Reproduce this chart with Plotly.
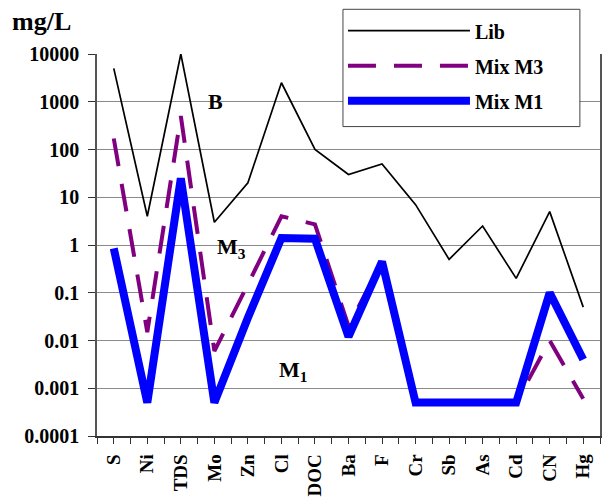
import plotly.graph_objects as go

# Parameters along the horizontal axis
categories = ["S", "Ni", "TDS", "Mo", "Zn", "Cl", "DOC", "Ba", "F",
              "Cr", "Sb", "As", "Cd", "CN", "Hg"]

# Concentrations in mg/L
lib = [5000, 4, 10000, 3, 20, 2500, 100, 30, 50, 7, 0.5, 2.5, 0.2, 5, 0.05]
mix_m3 = [170, 0.015, 500, 0.006, 0.15, 4, 2.7, 0.02, 0.45,
          0.0005, 0.0005, 0.0005, 0.0005, 0.01, 0.0006]
mix_m1 = [0.85, 0.0005, 25, 0.0005, 0.03, 1.4, 1.35, 0.012, 0.45,
          0.0005, 0.0005, 0.0005, 0.0005, 0.1, 0.004]

y_tick_vals = [1e-4, 1e-3, 1e-2, 1e-1, 1, 10, 100, 1000, 10000]
y_tick_text = ["0.0001", "0.001", "0.01", "0.1", "1", "10", "100", "1000", "10000"]

SERIF = "Liberation Serif"
xpos = list(range(len(categories)))

fig = go.Figure()
fig.add_trace(go.Scatter(
    x=xpos, y=lib, name="Lib", mode="lines", legendgroup="a",
    line=dict(color="black", width=1.7),
))
fig.add_trace(go.Scatter(
    x=xpos, y=mix_m3, name="Mix M3", mode="lines", legendgroup="b",
    line=dict(color="#800080", width=4, dash="28px,18px"),
))
fig.add_trace(go.Scatter(
    x=xpos, y=mix_m1, name="Mix M1", mode="lines", legendgroup="c",
    line=dict(color="#0000FF", width=8),
))

# Tick marks at every category centre and every category boundary
x_tick_vals = [i * 0.5 - 0.5 for i in range(2 * len(categories) + 1)]
x_tick_text = [categories[int(v)] if float(v).is_integer() else " " for v in x_tick_vals]

fig.update_xaxes(
    range=[-0.5, len(categories) - 0.5],
    tickmode="array", tickvals=x_tick_vals, ticktext=x_tick_text,
    tickangle=-90, ticks="outside", ticklen=6, tickcolor="#333",
    ticklabelstandoff=3,
    showgrid=False, zeroline=False,
    showline=True, linecolor="#333", linewidth=1.5,
    tickfont=dict(family=SERIF, size=19, color="black", weight="bold"),
)
fig.update_yaxes(
    type="log", range=[-4, 4],
    tickmode="array", tickvals=y_tick_vals, ticktext=y_tick_text,
    ticks="outside", ticklen=7, tickcolor="#333",
    ticklabelstandoff=5,
    showgrid=True, gridcolor="#8a8a8a", gridwidth=1.2,
    showline=True, linecolor="#555", linewidth=1.5, mirror=True,
    tickfont=dict(family=SERIF, size=20, color="black", weight="bold"),
)

# Curve labels
label_font = dict(family=SERIF, size=22, color="black", weight="bold")
for txt, x, ylog in [("B", 3.03, 3.0), ("M<sub>3</sub>", 3.52, -0.07), ("M<sub>1</sub>", 5.33, -2.64)]:
    fig.add_annotation(x=x, y=ylog, text=txt, showarrow=False, font=label_font,
                       xref="x", yref="y")

# Unit label above the axis
fig.add_annotation(x=0, y=1, xref="paper", yref="paper", xanchor="left", yanchor="middle",
                   xshift=-87, yshift=33, text="mg/L", showarrow=False,
                   font=dict(family=SERIF, size=26, color="black", weight="bold"))

# Framed white panel behind the legend
fig.add_shape(type="rect", xref="paper", yref="paper",
              x0=0.489, x1=0.960, y0=0.810, y1=1.117,
              fillcolor="white", line=dict(color="#444", width=1), layer="above")

fig.update_layout(
    width=609, height=504,
    margin=dict(l=97, r=7, t=54, b=66),
    plot_bgcolor="white", paper_bgcolor="white",
    showlegend=True,
    legend=dict(
        x=0.489, y=1.112, xanchor="left", yanchor="top",
        bgcolor="rgba(0,0,0,0)", borderwidth=0,
        itemwidth=122, tracegroupgap=6,
        font=dict(family=SERIF, size=20, color="black", weight="bold"),
    ),
)

fig.write_html("out.html")
